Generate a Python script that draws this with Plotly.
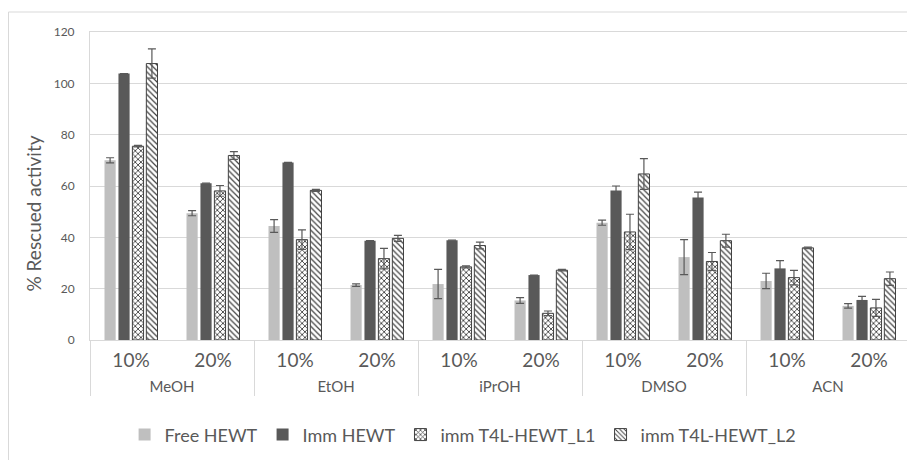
import plotly.graph_objects as go

solvents = ["MeOH", "MeOH", "EtOH", "EtOH", "iPrOH", "iPrOH", "DMSO", "DMSO", "ACN", "ACN"]
percents = ["10%", "20%"] * 5

free_hewt = [70.0, 49.4, 44.4, 21.4, 21.8, 15.4, 45.7, 32.3, 23.0, 13.3]
free_err = [1.0, 1.0, 2.5, 0.5, 5.7, 1.1, 1.0, 6.8, 3.0, 0.9]
imm_hewt = [103.8, 61.1, 69.2, 38.7, 38.9, 25.3, 58.2, 55.5, 27.9, 15.6]
imm_err = [0.0, 0.0, 0.0, 0.0, 0.0, 0.0, 1.8, 2.1, 3.0, 1.4]
l1 = [75.5, 58.1, 39.1, 31.7, 28.5, 10.4, 42.1, 30.6, 24.3, 12.5]
l1_err = [0.3, 2.1, 3.8, 4.0, 0.4, 0.9, 6.9, 3.5, 2.8, 3.3]
l2 = [107.7, 71.9, 58.3, 39.6, 36.8, 27.2, 64.7, 38.7, 35.9, 23.9]
l2_err = [5.7, 1.5, 0.4, 1.2, 1.3, 0.3, 6.0, 2.5, 0.3, 2.6]
y_ticks = [0, 20, 40, 60, 80, 100, 120]
y_title = "% Rescued activity"

FONT = "Lato"
inner = [f"<span style='font-size:19px'>{p}</span>" for p in percents]
outer = [f"<span style='font-size:15px'>{s}</span>" for s in solvents]
x = [outer, inner]

def err(a):
    return dict(type="data", array=a, visible=True, color="#595959", thickness=1.2, width=4)

fig = go.Figure()
fig.add_trace(go.Bar(name="Free HEWT", x=x, y=free_hewt, error_y=err(free_err),
                     marker=dict(color="#BFBFBF", line=dict(width=0))))
fig.add_trace(go.Bar(name="Imm HEWT", x=x, y=imm_hewt, error_y=err(imm_err),
                     marker=dict(color="#595959", line=dict(width=0))))
fig.add_trace(go.Bar(name="imm T4L-HEWT_L1", x=x, y=l1, error_y=err(l1_err),
                     marker=dict(color="white", line=dict(width=1, color="#404040"),
                                 pattern=dict(shape="x", size=4, solidity=0.4,
                                              fgcolor="#404040", bgcolor="white",
                                              fillmode="replace"))))
fig.add_trace(go.Bar(name="imm T4L-HEWT_L2", x=x, y=l2, error_y=err(l2_err),
                     marker=dict(color="white", line=dict(width=1, color="#404040"),
                                 pattern=dict(shape="\\", size=4, solidity=0.3,
                                              fgcolor="#404040", bgcolor="white",
                                              fillmode="replace"))))

fig.update_layout(
    width=907, height=452,
    margin=dict(l=82, r=5, t=24, b=120, autoexpand=False),
    paper_bgcolor="white", plot_bgcolor="white",
    barmode="group", bargap=0.32, bargroupgap=0.2,
    font=dict(family=FONT, color="#595959", size=12),
    legend=dict(orientation="h", x=0.455, xanchor="center", y=-0.308, yanchor="middle",
                font=dict(size=18, color="#595959"), itemwidth=30, traceorder="normal"),
    showlegend=True,
    shapes=[dict(type="rect", xref="paper", yref="paper",
                 x0=-0.0994, x1=1.05, y0=-0.45, y1=1.0649,
                 line=dict(color="#D9D9D9", width=1), fillcolor="rgba(0,0,0,0)", layer="below")],
    annotations=[dict(text=y_title, xref="paper", yref="paper", x=-0.0689, y=0.409,
                      textangle=-90, showarrow=False, xanchor="center", yanchor="middle",
                      font=dict(size=19, color="#595959"))],
)
fig.update_yaxes(range=[0, 120], tickvals=y_ticks, showgrid=True, gridcolor="#D9D9D9",
                 gridwidth=1, zeroline=False, showline=True, linecolor="#D9D9D9", mirror=True,
                 tickfont=dict(size=12, color="#595959"), ticks="", ticklabelstandoff=12)
fig.update_xaxes(type="multicategory", showline=True, linecolor="#D9D9D9", mirror=True,
                 showdividers=True, dividercolor="#D9D9D9", dividerwidth=1,
                 tickfont=dict(size=22, color="#595959"), ticks="", showgrid=False)

fig.write_html("out.html")
